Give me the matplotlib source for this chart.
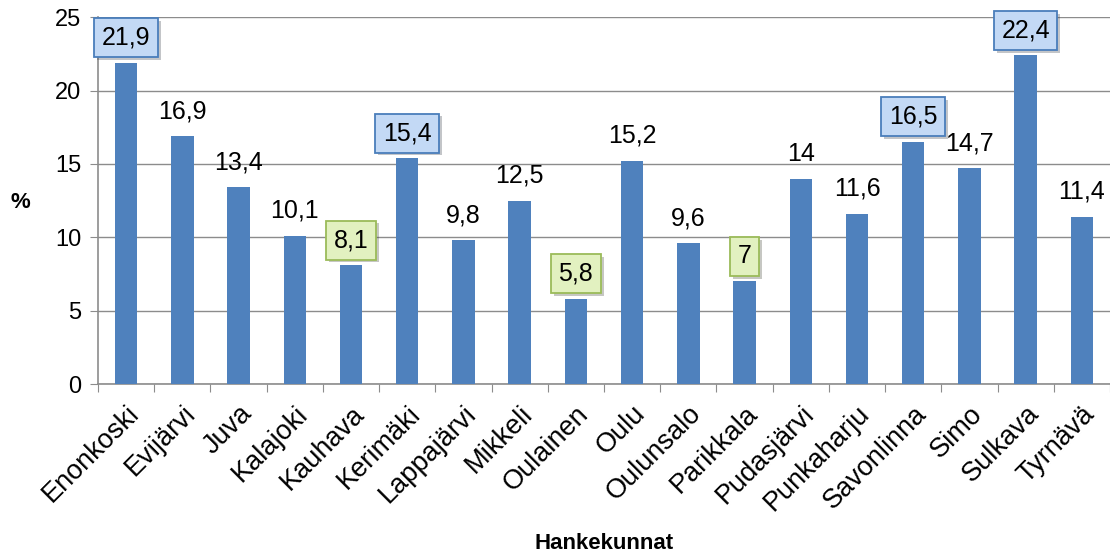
import matplotlib
matplotlib.use("Agg")
import matplotlib.pyplot as plt
import matplotlib.patheffects as pe

# Data
kunnat = ['Enonkoski', 'Evijärvi', 'Juva', 'Kalajoki', 'Kauhava', 'Kerimäki',
          'Lappajärvi', 'Mikkeli', 'Oulainen', 'Oulu', 'Oulunsalo', 'Parikkala',
          'Pudasjärvi', 'Punkaharju', 'Savonlinna', 'Simo', 'Sulkava', 'Tyrnävä']
osuus = [21.9, 16.9, 13.4, 10.1, 8.1, 15.4, 9.8, 12.5, 5.8, 15.2, 9.6, 7,
         14, 11.6, 16.5, 14.7, 22.4, 11.4]
y_ticks = [0, 5, 10, 15, 20, 25]

# labels drawn in boxes in the original
sininen = ['Enonkoski', 'Kerimäki', 'Savonlinna', 'Sulkava']
vihrea = ['Kauhava', 'Oulainen', 'Parikkala']

plt.rcParams['font.family'] = ['Liberation Sans', 'DejaVu Sans']

fig = plt.figure(figsize=(11.1, 5.55), dpi=100)
ax = fig.add_axes([0.0883, 0.308, 0.9117, 0.661])

x = list(range(len(kunnat)))
ax.bar(x, osuus, width=0.40, color='#4f81bd', zorder=3)

ax.set_xlim(-0.5, len(kunnat) - 0.5)
ax.set_ylim(0, 25)
ax.set_yticks(y_ticks)
ax.set_yticklabels([str(t) for t in y_ticks], fontsize=17)
ax.yaxis.grid(True, color='#8c8c8c', linewidth=1, zorder=0)

# ticks between categories on x
ax.set_xticks([i - 0.5 for i in range(len(kunnat) + 1)], minor=False)
ax.set_xticklabels([])
ax.set_xticks(x, minor=True)
ax.set_xticklabels(kunnat, minor=True, rotation=45, ha='right',
                   rotation_mode='anchor', fontsize=19.5)
ax.tick_params(axis='x', which='minor', length=0, pad=12)
ax.tick_params(axis='x', which='major', length=6, color='#8c8c8c')
ax.tick_params(axis='y', length=6, color='#8c8c8c', pad=6)

for s in ['top', 'right']:
    ax.spines[s].set_visible(False)
for s in ['left', 'bottom']:
    ax.spines[s].set_color('#8c8c8c')
    ax.spines[s].set_linewidth(1.2)

ax.set_xlabel('Hankekunnat', fontsize=16, fontweight='bold', labelpad=12)
fig.text(20 / 1110, 1 - 202 / 555, '%', fontsize=16, fontweight='bold',
         ha='center', va='center')

for i, v in enumerate(osuus):
    txt = f"{v:g}".replace('.', ',')
    bbox = None
    if kunnat[i] in sininen:
        bbox = dict(boxstyle='square,pad=0.3', fc='#c3d9f5', ec='#4a7ebb', lw=1.3)
    elif kunnat[i] in vihrea:
        bbox = dict(boxstyle='square,pad=0.3', fc='#e2f1c0', ec='#9bbb59', lw=1.3)
    t = ax.annotate(txt, (i, v), xytext=(0, 13), textcoords='offset points',
                    ha='center', va='baseline', fontsize=18, bbox=bbox, zorder=5)
    if bbox is not None:
        t.get_bbox_patch().set_path_effects(
            [pe.SimplePatchShadow(offset=(2, -2), alpha=0.3), pe.Normal()])

fig.savefig('out.png', dpi=100)
